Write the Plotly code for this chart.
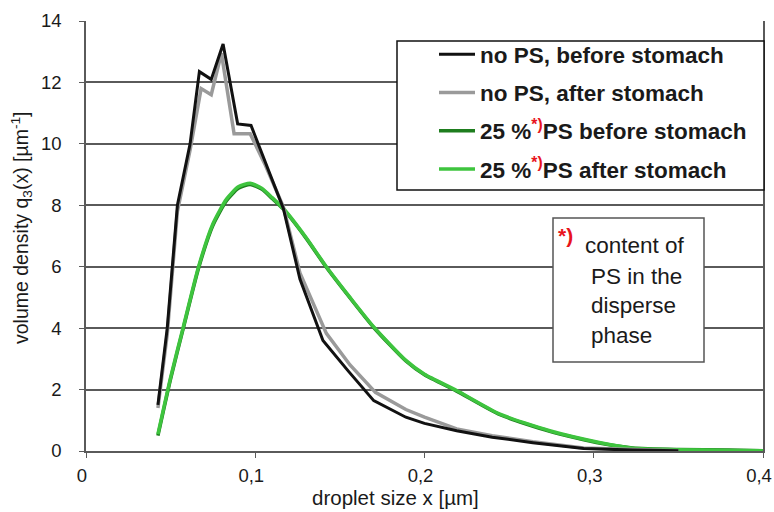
import plotly.graph_objects as go

# droplet size distributions (x in µm, q3 in 1/µm)
x_noPS_before = [0.0425, 0.048, 0.054, 0.0615, 0.067, 0.074, 0.081, 0.0896, 0.0975, 0.106,
                 0.1166, 0.1264, 0.140, 0.155, 0.170, 0.189, 0.200, 0.219, 0.240, 0.264,
                 0.294, 0.323, 0.350]
q_noPS_before = [1.5, 4.0, 8.0, 10.0, 12.35, 12.1, 13.25, 10.65, 10.6, 9.4,
                 7.9, 5.6, 3.6, 2.6, 1.64, 1.1, 0.9, 0.66, 0.45, 0.27,
                 0.08, 0.03, 0.01]

x_noPS_after = [0.0425, 0.048, 0.054, 0.0615, 0.068, 0.074, 0.080, 0.0875, 0.097, 0.106,
                0.1166, 0.1264, 0.142, 0.156, 0.171, 0.189, 0.200, 0.219, 0.240, 0.264,
                0.294, 0.323, 0.350]
q_noPS_after = [1.4, 3.8, 7.8, 9.8, 11.8, 11.6, 12.95, 10.33, 10.33, 9.3,
                7.95, 5.8, 3.83, 2.8, 1.91, 1.35, 1.1, 0.72, 0.5, 0.3,
                0.1, 0.04, 0.01]

x_PS = [0.0425, 0.050, 0.0575, 0.0665, 0.075, 0.083, 0.090, 0.097, 0.104, 0.110,
        0.117, 0.130, 0.142, 0.156, 0.170, 0.189, 0.200, 0.219, 0.2446, 0.274,
        0.304, 0.323, 0.350, 0.380, 0.400]
q_PS_before = [0.5, 2.35, 4.0, 5.95, 7.35, 8.15, 8.55, 8.68, 8.52, 8.22,
               7.85, 6.93, 5.98, 4.98, 4.02, 2.93, 2.48, 1.95, 1.18, 0.64,
               0.25, 0.1, 0.05, 0.03, 0.01]
q_PS_after = [0.55, 2.4, 4.04, 6.0, 7.4, 8.2, 8.6, 8.72, 8.55, 8.25,
              7.87, 6.95, 6.0, 5.0, 4.04, 2.95, 2.5, 1.97, 1.2, 0.66,
              0.27, 0.09, 0.04, 0.02, 0.01]

star = "<span style='color:#e8141c'><sup>*)</sup></span>"
names = ["<b>no PS, before stomach</b>",
         "<b>no PS, after stomach</b>",
         f"<b>25 %{star}PS before stomach</b>",
         f"<b>25 %{star}PS after stomach</b>"]

fig = go.Figure()
# green curves first so the no-PS curves are drawn on top
fig.add_trace(go.Scatter(x=x_PS, y=q_PS_before, mode="lines", name=names[2],
                         line=dict(color="#1e7d1e", width=3.5, shape="spline", smoothing=0.6),
                         legendgroup="c", legendrank=3))
fig.add_trace(go.Scatter(x=x_PS, y=q_PS_after, mode="lines", name=names[3],
                         line=dict(color="#3ec43e", width=3.5, shape="spline", smoothing=0.6),
                         legendgroup="d", legendrank=4))
fig.add_trace(go.Scatter(x=x_noPS_after, y=q_noPS_after, mode="lines", name=names[1],
                         line=dict(color="#9a9a9a", width=3.5), legendgroup="b", legendrank=2))
fig.add_trace(go.Scatter(x=x_noPS_before, y=q_noPS_before, mode="lines", name=names[0],
                         line=dict(color="#111111", width=3), legendgroup="a", legendrank=1))

W, H = 774, 512
L, R, T, B = 86, 11, 21, 61
pw, ph = W - L - R, H - T - B


def px(xp):
    return (xp - L) / pw


def py(yp):
    return (H - B - yp) / ph


axis_col = "#5a5a5a"
text_col = "#1a1a1a"
fig.update_layout(
    width=W, height=H,
    margin=dict(l=L, r=R, t=T, b=B, autoexpand=False),
    paper_bgcolor="white", plot_bgcolor="white",
    separators=",.",
    font=dict(family="Liberation Sans, Arial, sans-serif", color=text_col, size=18),
    xaxis=dict(range=[0, 0.4], dtick=0.1, tick0=0, showgrid=False, zeroline=False,
               showline=True, linecolor=axis_col, linewidth=1.5, automargin=False,
               ticks="outside", ticklen=5, tickcolor=axis_col,
               tickfont=dict(size=18.5), ticklabeloverflow="allow",
               ticklabelstandoff=2, ticklabelshift=-4),
    yaxis=dict(range=[0, 14], dtick=2, tick0=0, showgrid=True, gridcolor=axis_col,
               gridwidth=1.5, zeroline=False, showline=True, mirror=True,
               linecolor=axis_col, linewidth=1.5, automargin=False,
               ticks="outside", ticklen=5, tickcolor=axis_col,
               tickfont=dict(size=18.5), ticklabelstandoff=14),
    legend=dict(x=px(434), y=py(33), xanchor="left", yanchor="top",
                bgcolor="rgba(0,0,0,0)", borderwidth=0,
                font=dict(size=22.5, color=text_col),
                traceorder="grouped", tracegroupgap=6, itemwidth=36),
    showlegend=True,
)

# axis titles
fig.add_annotation(xref="paper", yref="paper", x=px(395), y=py(497),
                   xanchor="center", yanchor="middle", showarrow=False,
                   text="droplet size x [µm]", font=dict(size=20.5, color=text_col))
fig.add_annotation(xref="paper", yref="paper", x=px(22), y=py(228),
                   xanchor="center", yanchor="middle", showarrow=False, textangle=-90,
                   text="volume density q<sub>3</sub>(x) [µm<sup>-1</sup>]",
                   font=dict(size=19.5, color=text_col))

# frame around the legend
fig.add_shape(type="rect", xref="paper", yref="paper",
              x0=px(397), x1=px(764), y0=py(190), y1=py(41),
              line=dict(color="#111111", width=1.5), fillcolor="white", layer="above")

# footnote box
fig.add_shape(type="rect", xref="paper", yref="paper",
              x0=px(553), x1=px(704), y0=py(362), y1=py(218),
              line=dict(color="#555555", width=1.5), fillcolor="white", layer="above")
fig.add_annotation(xref="paper", yref="paper", x=px(556), y=py(222),
                   xanchor="left", yanchor="top", showarrow=False,
                   text="<b>*)</b>", font=dict(size=21, color="#e8141c"))
fig.add_annotation(xref="paper", yref="paper", x=px(583), y=py(245),
                   xanchor="left", yanchor="middle", showarrow=False,
                   text="content of", font=dict(size=22.5, color=text_col))
fig.add_annotation(xref="paper", yref="paper", x=px(589), y=py(262),
                   xanchor="left", yanchor="top", showarrow=False, align="left",
                   text="PS in the<br>disperse<br>phase", font=dict(size=22.5, color=text_col))

fig.write_html("out.html")
